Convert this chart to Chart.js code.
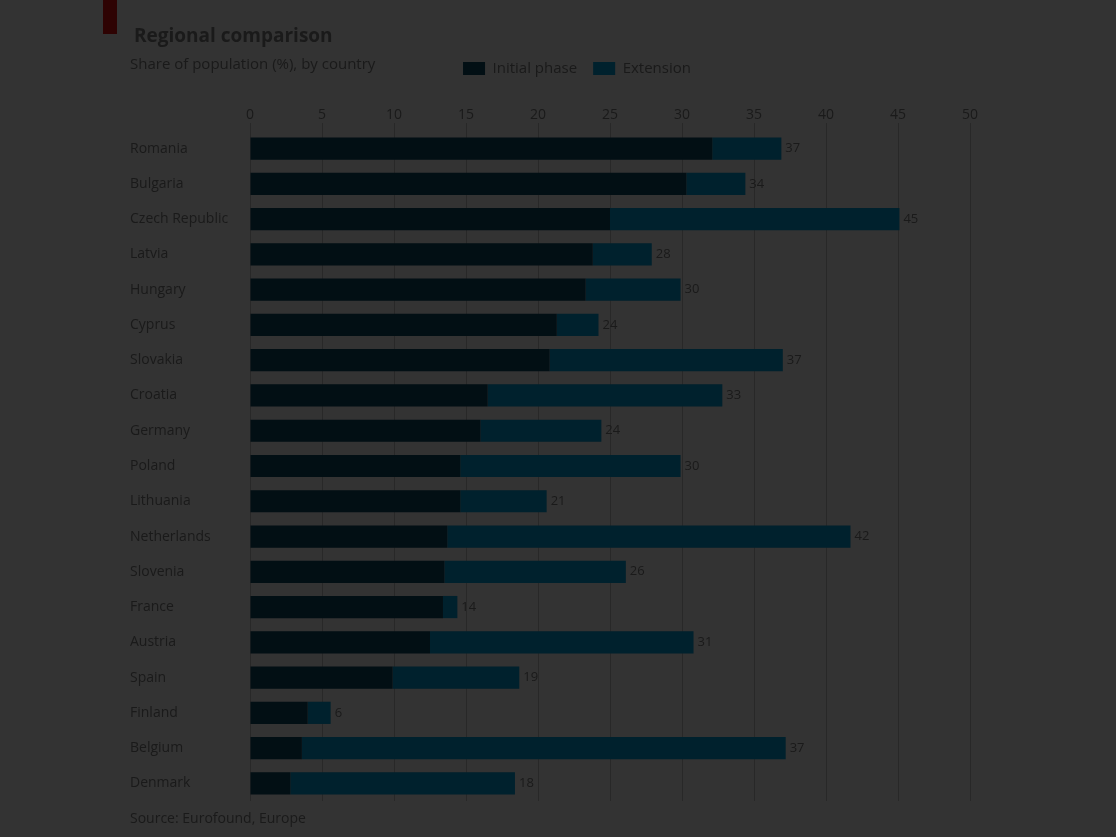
<!DOCTYPE html>
<html><head><meta charset="utf-8">
<script src="https://cdn.jsdelivr.net/npm/chart.js@4.4.1/dist/chart.umd.min.js"></script>
<style>
html,body{margin:0;padding:0;background:#333333;font-family:"Open Sans",sans-serif;}
#wrap{position:relative;width:1116px;height:837px;overflow:hidden;}
#accent{position:absolute;left:103px;top:0;width:14px;height:34px;background:#2e0303;}
#title{position:absolute;left:134px;top:22px;font-size:19px;font-weight:bold;color:#1a1a1a;white-space:nowrap;}
#subtitle{position:absolute;left:130px;top:53px;font-size:15px;color:#1a1a1a;white-space:nowrap;}
#source{position:absolute;left:130px;top:808px;font-size:14px;color:#1a1a1a;white-space:nowrap;}
canvas{position:absolute;left:0;top:0;}
</style></head><body>
<div id="wrap">
<div id="accent"></div>
<canvas id="c" width="1116" height="837"></canvas>
<div id="title"></div>
<div id="subtitle"></div>
<div id="source"></div>
</div>
<script>
const categories=['Romania','Bulgaria','Czech Republic','Latvia','Hungary','Cyprus','Slovakia','Croatia','Germany','Poland','Lithuania','Netherlands','Slovenia','France','Austria','Spain','Finland','Belgium','Denmark'];
const phase1=[32.1,30.3,25.0,23.8,23.3,21.3,20.8,16.5,16.0,14.6,14.6,13.7,13.5,13.4,12.5,9.9,4.0,3.6,2.8];
const phase2=[4.8,4.1,20.1,4.1,6.6,2.9,16.2,16.3,8.4,15.3,6.0,28.0,12.6,1.0,18.3,8.8,1.6,33.6,15.6];
const xTicks=[0,5,10,15,20,25,30,35,40,45,50];
const seriesNames=['Initial phase','Extension'];
const titleText='Regional comparison';
const subtitleText='Share of population (%), by country';
const sourceText='Source: Eurofound, Europe';

document.getElementById('title').textContent=titleText;
document.getElementById('subtitle').textContent=subtitleText;
document.getElementById('source').textContent=sourceText;

const TXT='#1a1a1a';
const PAD_L=130, AREA_L=250, AREA_R=970, AREA_T=131;

const totalLabels={
  id:'totalLabels',
  afterDatasetsDraw(chart){
    const ctx=chart.ctx;
    const meta=chart.getDatasetMeta(1);
    ctx.save();
    ctx.font='13px "Open Sans"';
    ctx.fillStyle=TXT;
    ctx.textBaseline='middle';
    ctx.textAlign='left';
    meta.data.forEach((bar,i)=>{
      const t=phase1[i]+phase2[i];
      ctx.fillText(Math.round(t).toString(),bar.x+4,bar.y);
    });
    ctx.restore();
  }
};
const legendShift={
  id:'legendShift',
  afterLayout(chart){
    const lg=chart.legend;
    const dx=577-(lg.left+lg.right)/2;
    lg.left+=dx; lg.right+=dx;
    const dy=45-lg.top;
    lg.top+=dy; lg.bottom+=dy;
  }
};

new Chart(document.getElementById('c'),{
  type:'bar',
  data:{
    labels:categories,
    datasets:[
      {label:seriesNames[0],data:phase1,backgroundColor:'#020f14',borderWidth:0,barPercentage:0.63,categoryPercentage:1},
      {label:seriesNames[1],data:phase2,backgroundColor:'#00212d',borderWidth:0,barPercentage:0.63,categoryPercentage:1}
    ]
  },
  options:{
    indexAxis:'y',
    responsive:false,
    animation:false,
    layout:{padding:{left:PAD_L,right:1116-AREA_R,top:40,bottom:36}},
    plugins:{
      legend:{position:'top',align:'center',labels:{color:TXT,font:{size:15,family:'"Open Sans"'},boxWidth:22,boxHeight:13,padding:16}},
      tooltip:{enabled:false}
    },
    scales:{
      x:{
        position:'top',stacked:true,min:0,max:50,
        afterBuildTicks(s){s.ticks=xTicks.map(v=>({value:v}));},
        afterFit(s){const lg=s.chart.legend; s.height=AREA_T-40-(lg?lg.height:0);},
        ticks:{color:TXT,font:{size:14,family:'"Open Sans"'},padding:0},
        grid:{color:'#282828',lineWidth:1,tickLength:8,drawTicks:true},
        border:{display:false}
      },
      y:{
        stacked:true,
        afterFit(s){s.width=AREA_L-PAD_L;},
        ticks:{color:TXT,font:{size:14,family:'"Open Sans"'},crossAlign:'far',padding:6},
        grid:{display:false},
        border:{display:false}
      }
    }
  },
  plugins:[totalLabels,legendShift]
});
</script>
</body></html>
